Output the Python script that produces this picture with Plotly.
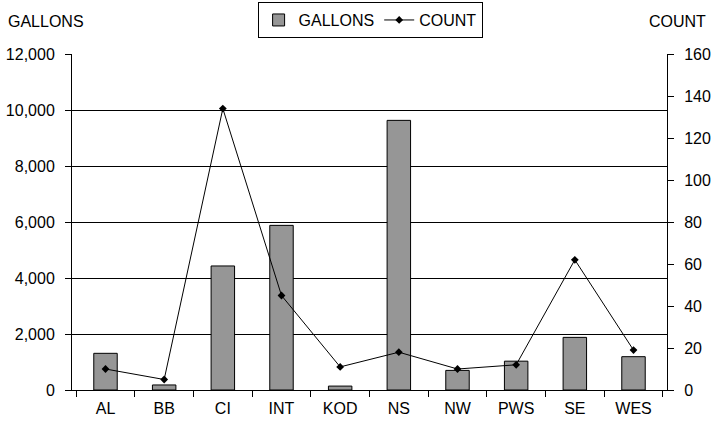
import plotly.graph_objects as go

categories = ["AL", "BB", "CI", "INT", "KOD", "NS", "NW", "PWS", "SE", "WES"]
gallons = [1310, 180, 4430, 5880, 140, 9630, 700, 1030, 1880, 1190]
count = [10, 5, 134, 45, 11, 18, 10, 12, 62, 19]
gal_ticks = [0, 2000, 4000, 6000, 8000, 10000, 12000]
gal_labels = ["0", "2,000", "4,000", "6,000", "8,000", "10,000", "12,000"]
cnt_ticks = [0, 20, 40, 60, 80, 100, 120, 140, 160]

fig = go.Figure()
fig.add_trace(go.Bar(x=categories, y=gallons, name="GALLONS",
                     marker=dict(color="#969696", line=dict(color="black", width=1))))
fig.add_trace(go.Scatter(x=categories, y=count, name="COUNT", yaxis="y2",
                         mode="lines+markers",
                         line=dict(color="black", width=1),
                         marker=dict(symbol="diamond", size=6, color="black")))

font = dict(family="Liberation Sans, Arial, sans-serif", size=16, color="black")
fig.update_layout(
    width=713, height=425,
    margin=dict(l=72, r=46, t=54, b=35, autoexpand=False),
    paper_bgcolor="white", plot_bgcolor="white",
    font=font,
    bargap=0.6,
    showlegend=True,
    legend=dict(orientation="h", x=0.501, xanchor="center", y=1.101, yanchor="middle",
                bordercolor="black", borderwidth=1, font=font,
                traceorder="normal", itemwidth=30, tracegroupgap=0),
    xaxis=dict(showline=True, linecolor="black", linewidth=1, ticks="outside",
               tickcolor="black", ticklen=6, tickson="boundaries", showgrid=False,
               tickfont=font, ticklabelstandoff=4, automargin=False),
    yaxis=dict(range=[0, 12000], tickvals=gal_ticks, ticktext=gal_labels,
               showline=True, linecolor="black", linewidth=1, ticks="outside",
               tickcolor="black", ticklen=6, showgrid=True, gridcolor="black",
               gridwidth=1, zeroline=False, tickfont=font, ticklabelstandoff=7,
               automargin=False),
    yaxis2=dict(range=[0, 160], tickvals=cnt_ticks, overlaying="y", side="right",
                showline=True, linecolor="black", linewidth=1, ticks="outside",
                tickcolor="black", ticklen=6, showgrid=False, zeroline=False,
                tickfont=font, ticklabelstandoff=7, automargin=False),
    annotations=[
        dict(text="GALLONS", xref="paper", yref="paper", x=-0.111, y=1.0,
             yshift=33, xanchor="left", yanchor="middle", showarrow=False, font=font),
        dict(text="COUNT", xref="paper", yref="paper", x=1.069, y=1.0,
             yshift=33, xanchor="right", yanchor="middle", showarrow=False, font=font),
    ],
)
fig.write_html("out.html")
